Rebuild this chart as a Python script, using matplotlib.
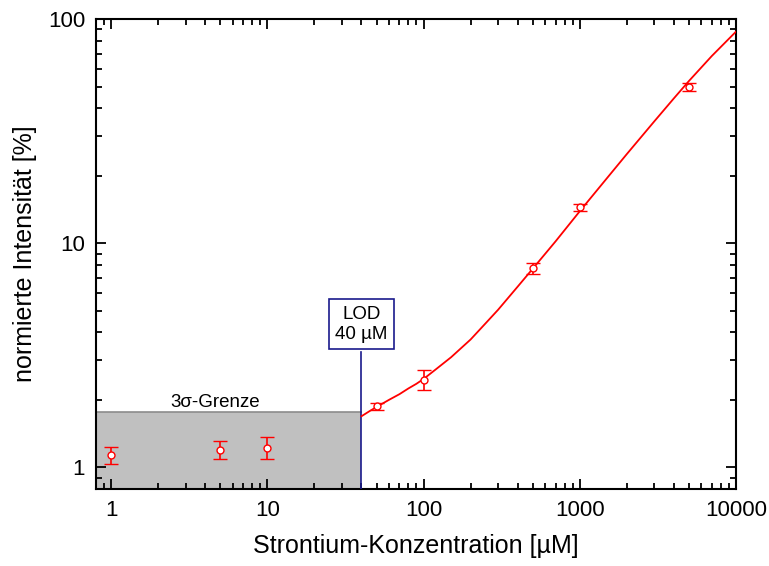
import numpy as np
import matplotlib
matplotlib.use('Agg')
import matplotlib.pyplot as plt
from matplotlib.ticker import LogLocator, FixedLocator, NullFormatter

plt.rcParams['font.family'] = ['Liberation Sans', 'DejaVu Sans']

# Messwerte
konz = [1, 5, 10, 50, 100, 500, 1000, 5000]
intens = [1.13, 1.20, 1.22, 1.87, 2.46, 7.75, 14.5, 50.0]
fehler_unten = [0.10, 0.11, 0.13, 0.06, 0.25, 0.45, 0.5, 2.0]
fehler_oben = [0.10, 0.11, 0.14, 0.06, 0.25, 0.45, 0.5, 2.0]

# Fitkurve
fit_x = [40, 45, 50, 60, 70, 80, 90, 100, 120, 150, 200, 250, 300, 400, 500, 700,
         1000, 1500, 2000, 3000, 4000, 5000, 7000, 10000]
fit_y = [1.69, 1.78, 1.86, 2.0, 2.12, 2.25, 2.36, 2.48, 2.74, 3.1, 3.72, 4.4, 5.05,
         6.4, 7.7, 10.2, 13.9, 19.6, 25.0, 35.0, 44.3, 53.0, 68.5, 88.0]

lod = 40
grenze = 1.76
xlim = (0.8, 10000)
ylim = (0.8, 100)

fig = plt.figure(figsize=(7.69, 5.66), dpi=100)
ax = fig.add_axes([0.125, 0.136, 0.832, 0.830])

ax.set_xscale('log')
ax.set_yscale('log')
ax.set_xlim(*xlim)
ax.set_ylim(*ylim)

# 3sigma-Bereich
ax.fill_between([xlim[0], lod], ylim[0], grenze, color='#c0c0c0', zorder=1, linewidth=0)
ax.plot([xlim[0], lod], [grenze, grenze], color='#8c8c8c', lw=1.2, zorder=2)
ax.text(4.6, grenze * 1.015, '3σ-Grenze', ha='center', va='bottom', fontsize=13.5)

# LOD
ax.plot([lod, lod], [ylim[0], 3.27], color='#1a1a8c', lw=1.2, zorder=3)
ax.text(lod, 4.35, 'LOD\n40 µM', ha='center', va='center', fontsize=13.5,
        linespacing=1.25,
        bbox=dict(boxstyle='square,pad=0.35', fc='white', ec='#1a1a8c', lw=1.2), zorder=4)

ax.plot(fit_x, fit_y, color='red', lw=1.3, zorder=5)
ax.errorbar(konz, intens, yerr=[fehler_unten, fehler_oben], fmt='o', color='red',
            mfc='white', mec='red', ms=5, mew=1.0, ecolor='red', elinewidth=1.2,
            capsize=5, capthick=1.2, zorder=6)

ax.xaxis.set_major_locator(FixedLocator([1, 10, 100, 1000, 10000]))
ax.set_xticklabels(['1', '10', '100', '1000', '10000'])
ax.xaxis.set_minor_locator(LogLocator(base=10, subs=np.arange(2, 10)))
ax.xaxis.set_minor_formatter(NullFormatter())
ax.yaxis.set_major_locator(FixedLocator([1, 10, 100]))
ax.set_yticklabels(['1', '10', '100'])
ax.yaxis.set_minor_locator(LogLocator(base=10, subs=np.arange(2, 10)))
ax.yaxis.set_minor_formatter(NullFormatter())

ax.tick_params(which='both', direction='in', top=True, right=True, width=1.3, labelsize=16)
ax.tick_params(which='major', length=7, pad=8)
ax.tick_params(which='minor', length=4)
for s in ax.spines.values():
    s.set_linewidth(1.5)

ax.set_xlabel('Strontium-Konzentration [µM]', fontsize=18, labelpad=9)
ax.set_ylabel('normierte Intensität [%]', fontsize=18, labelpad=8)

plt.savefig('out.png', dpi=100)
